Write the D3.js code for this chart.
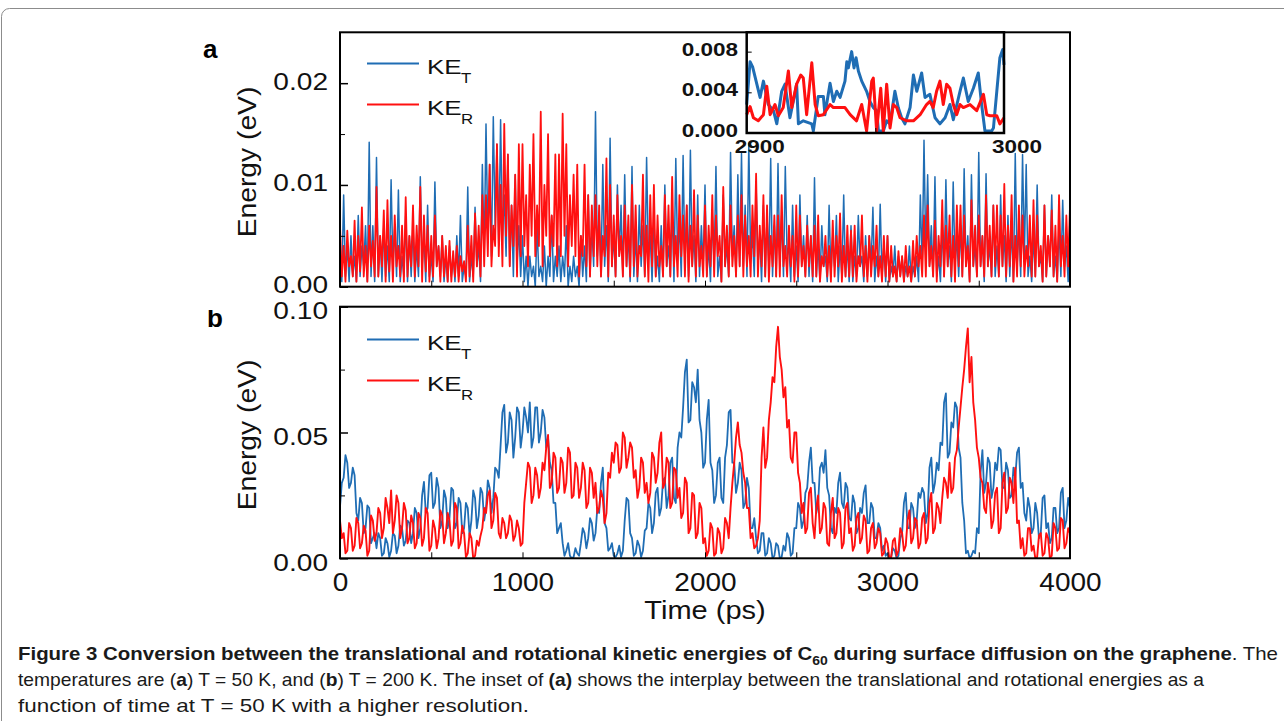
<!DOCTYPE html>
<html>
<head>
<meta charset="utf-8">
<script src="https://cdn.jsdelivr.net/npm/d3@7"></script>
<style>
  body { margin: 0; background: #fff; }
  svg { display: block; font-family: Arial, "Liberation Sans", sans-serif; }
</style>
</head>
<body>
<script>
// spacing of the main traces, ps
const stepPs = 10;

// (a) T = 50 K, energies in meV, one value every stepPs (20 per line = 200 ps)
const keT_a = [
  3, 0.5, 9, 1, 4, 0.5, 5, 1, 3, 0.5, 7, 1, 4, 2, 6, 0.5, 14.2, 1, 6, 0.5,
  12.7, 1, 5, 0.5, 6, 1, 4, 0.5, 10.5, 2, 6, 1, 9.5, 0.5, 3, 1, 7, 0.5, 5, 1,
  6, 0.5, 4, 1, 10.8, 2, 5, 0.5, 8, 1, 3, 0.5, 10.3, 2, 4, 1, 5, 0.5, 3, 0.5,
  4, 1, 3, 0.5, 5, 1, 7, 0.5, 2, 1, 9.8, 0.5, 3, 1, 7.8, 2, 4, 0.5, 12, 3,
  16, 5, 12, 3, 16.7, 6, 14, 4, 16.4, 5, 9, 3, 13, 2, 8, 1, 11, 2, 6, 1,
  5, 0.5, 3, 0, 3, 1, 2, 0, 6, 1, 2, 0.5, 4, 0, 3, 1, 7, 0.5, 3, 1,
  4, 0.5, 3, 1, 6, 0, 2, 0.5, 3, 1, 2, 0, 5, 1, 4, 0.5, 9, 1, 6, 2,
  17.2, 3, 7, 1, 12, 2, 6, 0.5, 14.6, 2, 5, 1, 10, 3, 8, 1, 11, 2, 5, 0.5,
  11.8, 1, 5, 0.5, 8, 2, 6, 1, 12.7, 3, 5, 0.5, 7, 1, 3, 0.5, 6, 1, 10, 2,
  4, 1, 8, 0.5, 12.6, 3, 6, 1, 12.9, 2, 8, 1, 13.4, 2, 5, 0.5, 9, 1, 6, 2,
  10, 1, 4, 0.5, 7, 2, 11.8, 1, 3, 0.5, 9, 2, 4, 1, 13.2, 3, 6, 1, 11, 2,
  13.1, 2, 8, 1, 14.1, 3, 5, 1, 10, 2, 5, 0.5, 8, 1, 7, 2, 12.6, 1, 6, 1,
  12.1, 2, 7, 1, 11.8, 3, 4, 0.5, 8, 1, 4, 0.5, 9, 2, 5, 1, 7, 1, 5, 0.5,
  10.7, 1, 4, 0.5, 6, 2, 3, 0.5, 8, 1, 5, 2, 7, 0.5, 4, 1, 9, 1, 4, 0.5,
  6, 0.5, 3, 1, 7, 2, 3, 0.5, 5, 1, 5, 2, 7.8, 0.5, 3, 1, 8.1, 1, 4, 0.5,
  5, 0.5, 2, 1, 4, 0.5, 3, 1, 3, 0.5, 2, 1, 4, 0.5, 2, 1, 3, 0.5, 9, 2,
  14.4, 3, 11, 2, 6, 1, 10.8, 1, 3, 0.5, 6, 1, 10.5, 2, 4, 0.5, 10.3, 2, 5, 1,
  6, 1, 11.6, 2, 5, 0.5, 11, 2, 4, 1, 13.2, 2, 5, 0.5, 11.1, 2, 4, 1, 8, 1,
  4, 1, 9, 2, 5, 0.5, 7, 1, 6, 0.5, 13.1, 2, 6, 1, 13, 3, 12, 1, 3, 0.5,
  5, 1, 10, 2, 3, 0.5, 8, 1, 5, 2, 9, 1, 3, 0.5, 6, 1, 8.5, 2, 4, 0.5,
  7
];
const keR_a = [
  6, 1, 4, 0.5, 5.5, 2, 3, 1, 6.5, 0.5, 5, 1.5, 7.8, 1, 4, 0.5, 6, 2, 4.5, 1,
  9.8, 1, 5, 2, 7.5, 0.5, 8.5, 1.5, 5, 0.5, 7, 2, 4, 1, 6, 0.5, 8.8, 1, 5, 2,
  8, 1, 6, 2, 9.8, 0.5, 7, 1.5, 6, 0.5, 5, 1, 7, 2, 4, 0.5, 5, 1, 4, 0.5,
  4.5, 0.5, 3.5, 1, 4, 0.5, 3, 1.5, 2.5, 0.5, 6, 1, 5, 0.5, 7.2, 2, 6, 1, 9, 2,
  9, 3, 12, 2, 6, 4, 14, 3, 10, 2, 16, 5, 13, 2, 8, 4, 11, 1, 14, 3,
  14, 4, 9, 2, 12, 5, 15, 3, 8, 4, 17.2, 2, 10, 5, 15, 3, 7, 4, 13, 2,
  13, 3, 17, 5, 14, 2, 9, 4, 11, 3, 12, 1, 5, 3, 12, 2, 9, 1, 8, 3,
  9, 2, 8, 1, 5, 3, 12.6, 1, 10, 2, 7, 1, 9, 3, 5, 1, 8, 2, 7, 1,
  10, 2, 8, 1, 4, 3, 11, 1, 6, 0.5, 9, 2, 10, 1, 7, 2, 4, 1, 9, 2,
  8, 1, 10.8, 2, 5, 1, 9, 3, 7, 1, 8, 0.5, 6, 2, 9.5, 1, 7, 2, 4, 1,
  8, 1, 6, 2, 9, 1, 7, 3, 5, 0.5, 9.8, 2, 6, 1, 8, 2, 5, 1, 7, 2,
  9, 1, 7, 2, 5, 1, 8, 3, 11.1, 1, 6, 2, 9, 1, 8, 0.5, 5, 2, 7, 1,
  7, 1, 9, 2, 4, 1, 6, 2, 5, 0.5, 8, 1, 7, 2, 4, 1, 6, 2, 5, 1,
  6, 1, 7, 0.5, 3, 2, 5, 1, 4, 0.5, 6.5, 1, 5, 2, 7.2, 0.5, 4, 1, 6, 1,
  5.5, 1, 6, 0.5, 3, 2, 7, 1, 4, 0.5, 5, 1, 4, 2, 6, 1, 3, 0.5, 5, 1,
  5, 0.5, 4, 1, 2, 0.5, 3.5, 1, 3, 0.5, 4, 1, 2, 0.5, 4.5, 1, 5, 2, 4, 1,
  7, 1, 8, 2, 4, 1, 6.5, 0.5, 5, 2, 8.5, 1, 6, 2, 7, 1, 5, 0.5, 8, 2,
  8, 1, 7, 2, 4, 0.5, 8.5, 2, 6, 1, 7, 2, 5, 1, 9, 2, 6, 1, 8, 2,
  8, 1, 7, 2, 10.1, 1, 6, 2, 9, 0.5, 5, 1, 8, 2, 7, 1, 4, 2, 7, 1,
  8.5, 1, 7, 2, 4, 0.5, 8, 1, 5, 2, 7.5, 1, 6, 0.5, 9, 2, 5, 1, 7, 2,
  8
];

// inset of (a): [time ps, energy meV]
const insetT = [
  [2900, 2.8], [2901.3, 7.0], [2902.3, 6.5], [2905.2, 3.5], [2906.5, 5.1], [2908.4, 2.8],
  [2910.4, 2.2], [2911.7, 0.9], [2913.6, 4.1], [2914.9, 4.8], [2916.8, 1.5], [2918.1, 3.1],
  [2919.4, 4.8], [2920.1, 0.9], [2922, 1.2], [2925.3, 0.9], [2925.9, 0.2], [2927.8, 3.6],
  [2929.8, 3.6], [2930.4, 1.8], [2932.4, 4.9], [2933.7, 3.1], [2935, 4.1], [2936.3, 3.5],
  [2938.2, 5.1], [2938.9, 7.0], [2939.5, 6.4], [2940.8, 8.0], [2941.7, 6.4], [2942.5, 7.4],
  [2943.4, 6.1], [2944.7, 5.1], [2946.6, 4.1], [2947.9, 3.1], [2949.2, 2.5], [2950.5, 2.2],
  [2951.2, 0.2], [2953.1, 0.2], [2954.4, 1.2], [2955.7, 0.9], [2957.6, 4.1], [2958.9, 2.5],
  [2960.2, 1.5], [2961.5, 0.9], [2963.5, 2.5], [2964.8, 5.7], [2966.1, 4.1], [2968, 5.9],
  [2969.3, 3.5], [2971.2, 3.8], [2973.2, 1.5], [2975.1, 0.9], [2977.1, 1.5], [2979, 2.8],
  [2980.3, 1.3], [2982.9, 4.1], [2984.2, 5.4], [2986.1, 3.1], [2988.1, 4.4], [2990, 5.9],
  [2991.3, 2.8], [2992.6, 0.2], [2995.2, 0.2], [2995.9, 0.5], [2997.2, 4.1], [2998.4, 7.4],
  [2999.5, 8.2], [3000, 6.7]
];
const insetR = [
  [2900, 1.8], [2901.3, 2.6], [2902.6, 1.5], [2904.5, 1.2], [2906.5, 1.8], [2907.8, 4.6],
  [2909.1, 1.8], [2911, 2.8], [2912.3, 1.7], [2914.2, 2.5], [2916.2, 6.1], [2917.5, 2.5],
  [2919.4, 4.8], [2921, 5.7], [2922, 5.4], [2923.3, 1.8], [2925.3, 6.9], [2926.6, 2.8],
  [2927.8, 1.7], [2929.8, 1.8], [2932.4, 2.8], [2933.7, 2.5], [2936.3, 2.5], [2938.2, 2.5],
  [2940.2, 1.8], [2942.7, 1.2], [2944.7, 2.8], [2946.6, 0.2], [2948.6, 5.1], [2949.2, 5.4],
  [2950.5, 0.2], [2952.1, 4.4], [2953.1, 0.2], [2954.4, 4.8], [2955.7, 0.5], [2957, 2.8],
  [2958.3, 2.5], [2959.6, 1.5], [2962.2, 1.2], [2964.8, 1.2], [2967.4, 1.8], [2969.9, 2.8],
  [2971.2, 3.1], [2972.5, 2.5], [2973.8, 4.1], [2975.1, 5.1], [2976.4, 2.8], [2977.7, 4.8],
  [2979, 4.4], [2980.3, 2.8], [2981.6, 1.8], [2982.9, 2.8], [2984.2, 2.5], [2986.8, 2.8],
  [2989.4, 2.2], [2992, 3.8], [2993.3, 1.8], [2994.6, 1.7], [2997.2, 1.7], [2998.4, 0.9],
  [3000, 1.5]
];

// (b) T = 200 K, energies in meV, one value every stepPs (20 per line = 200 ps)
const keT_b = [
  20.5, 30, 32, 41, 38, 28, 30, 36, 33, 18, 15, 24, 22, 10, 12, 21, 20, 6, 8, 10,
  4, 10, 8, 1, 2, 8, 6, 0.5, 3, 10, 9, 2, 5, 13, 12, 5, 7, 15, 14, 6,
  10, 20, 18, 8, 12, 25, 30.4, 18, 20, 33, 34, 20, 22, 32, 28, 12, 15, 27, 24, 12,
  16, 28, 27, 12, 14, 24, 22, 10, 12, 22, 20, 9, 15, 27, 24, 12, 17, 28, 26, 15,
  20, 31, 28, 18, 24, 36, 35, 32, 45, 58, 61, 42, 46, 58, 55, 40, 48, 60, 58, 44,
  50, 60, 56, 50, 62, 44, 48, 60, 60, 46, 50, 59, 56, 44, 48, 38, 35, 22, 22, 10,
  12, 14, 6, 1, 3, 6, 1, 0, 0.5, 4, 2, 1, 6, 12, 10, 4, 8, 16, 14, 7,
  10, 20, 18, 30, 36, 14, 12, 3, 4, 6, 1, 0.5, 2, 5, 0.5, 3, 15, 24, 23, 10,
  8, 1, 2, 7, 5, 0.5, 3, 11, 12, 22, 20, 10, 14, 26, 28, 17, 20, 31, 32, 20,
  25, 38, 40, 24, 22, 44, 50, 48, 60, 74, 79, 54, 55, 70, 68, 62, 75, 55, 50, 36,
  38, 55, 63, 38, 35, 22, 25, 38, 40, 24, 22, 40, 45, 58, 59, 38, 38, 26, 30, 38,
  35, 20, 22, 32, 28, 12, 12, 16, 8, 2, 3, 10, 10, 1, 2, 8, 6, 0, 1, 6,
  5, 0, 0.5, 5, 3, 10, 8, 1, 2, 12, 12, 22, 20, 12, 15, 26, 28, 38, 44, 30,
  30, 18, 22, 36, 38, 34, 43, 28, 25, 12, 10, 20, 18, 30, 34, 22, 20, 30, 28, 16,
  15, 25, 22, 10, 12, 20, 18, 26, 29, 14, 14, 22, 20, 8, 8, 14, 12, 3, 5, 1,
  2, 0, 0.5, 4, 3, 0, 1, 8, 10, 22, 26, 12, 12, 22, 20, 12, 15, 26, 24, 28,
  26, 14, 18, 36, 40, 26, 30, 38, 35, 46, 45, 62, 65.5, 40, 42, 54, 52, 62, 60, 44,
  40, 22, 15, 2, 3, 0, 1, 3, 2, 12, 10, 34, 43, 26, 30, 40, 38, 24, 28, 38,
  35, 44, 43, 28, 28, 38, 35, 24, 25, 36, 32, 42, 44, 28, 30, 18, 15, 24, 20, 10,
  12, 22, 18, 8, 10, 24, 25, 12, 14, 6, 8, 20, 20, 10, 12, 26, 28, 12, 15, 24,
  20
];
const keR_b = [
  15, 8, 10, 2, 3, 14, 12, 3, 5, 16, 14, 4, 6, 13, 11, 1, 3, 17, 15, 7,
  10, 20, 18, 8, 12, 24, 20, 14, 27, 10, 15, 25, 22, 8, 12, 22, 19, 6, 8, 17,
  14, 4, 6, 18, 16, 5, 8, 20, 18, 3, 5, 15, 12, 4, 8, 19, 17, 6, 10, 18,
  15, 5, 7, 22, 20, 4, 6, 13, 10, 0.5, 2, 10, 8, 0, 1, 7, 5, 9, 12, 20,
  18, 25, 27, 12, 15, 26, 24, 10, 8, 16, 14, 8, 10, 17, 15, 7, 9, 15, 12, 5,
  6, 22, 30, 38, 36, 22, 25, 36, 33, 24, 28, 38, 35, 44, 49, 28, 30, 42, 40, 26,
  28, 40, 38, 26, 30, 44, 42, 24, 25, 38, 36, 24, 28, 38, 35, 20, 22, 36, 34, 24,
  30, 18, 20, 27, 24, 14, 18, 34, 32, 42, 38, 46, 45, 34, 36, 50, 48, 36, 40, 46,
  44, 32, 35, 24, 28, 40, 38, 26, 30, 22, 26, 42, 40, 30, 34, 46, 50, 28, 30, 40,
  38, 20, 22, 36, 35, 24, 28, 16, 18, 32, 30, 10, 12, 26, 25, 8, 10, 22, 20, 6,
  8, 1, 3, 14, 12, 1, 2, 12, 10, 2, 4, 16, 14, 8, 20, 30, 38, 48, 54, 45,
  42, 34, 30, 20, 20, 8, 10, 4, 5, 8, 15, 40, 52, 36, 40, 55, 62, 72, 70, 84,
  92, 80, 75, 64, 68, 52, 55, 40, 38, 50, 50, 34, 30, 18, 22, 10, 12, 26, 28, 14,
  8, 20, 25, 10, 12, 22, 20, 6, 5, 18, 24, 8, 10, 20, 18, 4, 6, 20, 22, 10,
  12, 3, 5, 16, 18, 6, 8, 17, 15, 2, 3, 12, 14, 4, 6, 12, 10, 1, 2, 8,
  6, 0, 0.5, 7, 8, 1, 3, 12, 10, 3, 5, 15, 19, 6, 8, 16, 15, 4, 6, 16,
  18, 6, 8, 22, 26, 10, 12, 22, 20, 14, 24, 32, 30, 24, 38, 26, 28, 40, 43, 52,
  60, 68, 75, 84, 91.4, 70, 80, 62, 55, 44, 40, 32, 30, 20, 18, 30, 25, 12, 15, 26,
  28, 10, 12, 30, 34, 18, 20, 32, 30, 22, 36, 14, 15, 4, 8, 1, 2, 12, 12, 3,
  5, 0, 0.5, 9, 10, 1, 2, 10, 8, 0, 1, 14, 12, 3, 4, 16, 15, 4, 6, 12,
  10
];

// ticks
const timeTicks = [0, 1000, 2000, 3000, 4000];
const timeMinor = [500, 1000, 1500, 2000, 2500, 3000, 3500];
const yTicksA = [0, 0.01, 0.02], yMinorA = [0.005, 0.015];
const yTicksB = [0, 0.05, 0.1], yMinorB = [0.025, 0.075];
const insetYTicks = [0, 0.004, 0.008], insetXTicks = [2900, 3000];

const blue = '#1f6db4', red = '#ff1010';
const W = 1284, H = 721;
const L = 340, R = 1070;

const svg = d3.select('body').append('svg')
    .attr('width', W)
    .attr('height', H);

// stretch text horizontally, the figure uses a wide sans
const widen = (sel, k) => sel.each(function () {
    const w = this.getComputedTextLength();
    d3.select(this).attr('textLength', w * k).attr('lengthAdjust', 'spacingAndGlyphs');
});

// figure border
svg.append('rect')
    .attr('x', 1.5).attr('y', 8.5)
    .attr('width', 1320).attr('height', 800)
    .attr('rx', 8)
    .attr('fill', 'none')
    .attr('stroke', '#8c8c8c');

const x = d3.scaleLinear().domain([0, 4000]).range([L, R]);
const yA = d3.scaleLinear().domain([0, 0.025]).range([286.7, 32.3]);
const yB = d3.scaleLinear().domain([0, 0.1]).range([558.3, 306.7]);

const defs = svg.append('defs');
const clip = (id, x0, y0, w, h) => defs.append('clipPath').attr('id', id)
    .append('rect').attr('x', x0).attr('y', y0).attr('width', w).attr('height', h);
clip('clipA', L, 32.3, R - L, 254.4);
clip('clipB', L, 306.7, R - L, 251.6);
clip('clipLetterB', 190, 310, 60, 30);

const line = (y) => d3.line()
    .x((d, i) => x(i * stepPs))
    .y(d => y(d / 1000));

const trace = (vals, y, color, clipId, sw) => svg.append('path')
    .datum(vals)
    .attr('clip-path', `url(#${clipId})`)
    .attr('fill', 'none')
    .attr('stroke', color)
    .attr('stroke-width', sw)
    .attr('stroke-linejoin', 'round')
    .attr('d', line(y));

trace(keT_a, yA, blue, 'clipA', 1.5);
trace(keR_a, yA, red, 'clipA', 1.8);
trace(keT_b, yB, blue, 'clipB', 1.8);
trace(keR_b, yB, red, 'clipB', 1.9);

// axes, ticks pointing inward
const leftAxis = (y, major, minor) => {
    svg.append('g')
        .attr('transform', `translate(${L},0)`)
        .call(d3.axisLeft(y).tickValues(minor).tickSizeInner(-5).tickSizeOuter(0).tickFormat(''))
        .call(g => g.select('.domain').remove());
    const g = svg.append('g')
        .attr('transform', `translate(${L},0)`)
        .call(d3.axisLeft(y).tickValues(major).tickSizeInner(-8).tickSizeOuter(0)
            .tickPadding(12).tickFormat(d3.format('.2f')));
    g.select('.domain').remove();
    g.selectAll('line').attr('stroke-width', 1.5);
    g.selectAll('text')
        .attr('font-size', 24)
        .attr('font-family', 'Arial, "Liberation Sans", sans-serif')
        .attr('fill', '#111')
        .call(widen, 1.17);
    return g;
};
leftAxis(yA, yTicksA, yMinorA).selectAll('text').attr('dy', '0.25em');
leftAxis(yB, yTicksB, yMinorB).selectAll('text').attr('dy', '0.5em');

[yA, yB].forEach(y => {
    svg.append('g')
        .attr('transform', `translate(0,${y(0)})`)
        .call(d3.axisBottom(x).tickValues(timeMinor).tickSizeInner(-6).tickSizeOuter(0).tickFormat(''))
        .call(g => g.select('.domain').remove());
});

const xb = svg.append('g')
    .attr('transform', `translate(0,${yB(0)})`)
    .call(d3.axisBottom(x).tickValues(timeTicks).tickSize(0).tickPadding(15).tickFormat(d3.format('d')));
xb.select('.domain').remove();
xb.selectAll('text')
    .attr('font-size', 25)
    .attr('fill', '#111')
    .call(widen, 1.12);

// frames
[yA, yB].forEach(y => {
    svg.append('rect')
        .attr('x', L).attr('y', y.range()[1])
        .attr('width', R - L).attr('height', y.range()[0] - y.range()[1])
        .attr('fill', 'none')
        .attr('stroke', '#000')
        .attr('stroke-width', 2);
});

// inset
const xi = d3.scaleLinear().domain([2900, 3000]).range([746.7, 1004]);
const yi = d3.scaleLinear().domain([0, 0.0099]).range([133, 32.3]);

svg.append('rect')
    .attr('x', 746.7).attr('y', 32.3)
    .attr('width', 1004 - 746.7).attr('height', 133 - 32.3)
    .attr('fill', '#fff');

const insetLine = d3.line().x(d => xi(d[0])).y(d => yi(d[1] / 1000));
[[insetT, blue], [insetR, red]].forEach(([d, c]) => {
    svg.append('path')
        .datum(d)
        .attr('fill', 'none')
        .attr('stroke', c)
        .attr('stroke-width', 3)
        .attr('stroke-linejoin', 'round')
        .attr('d', insetLine);
});

svg.append('g')
    .attr('transform', 'translate(746.7,0)')
    .call(d3.axisLeft(yi).tickValues(insetYTicks.slice(1)).tickSizeInner(-5).tickSizeOuter(0).tickFormat(''))
    .call(g => g.select('.domain').remove());
svg.append('g')
    .attr('transform', 'translate(0,133)')
    .call(d3.axisBottom(xi).tickValues([2950]).tickSizeInner(-5).tickSizeOuter(0).tickFormat(''))
    .call(g => g.select('.domain').remove());

svg.append('rect')
    .attr('x', 746.7).attr('y', 32.3)
    .attr('width', 1004 - 746.7).attr('height', 133 - 32.3)
    .attr('fill', 'none')
    .attr('stroke', '#000')
    .attr('stroke-width', 2.5);

svg.selectAll('.inset-y')
    .data(insetYTicks)
    .join('text')
    .attr('class', 'inset-y')
    .attr('x', 738)
    .attr('y', d => yi(d) + 4)
    .attr('text-anchor', 'end')
    .attr('font-size', 18)
    .attr('font-weight', 'bold')
    .attr('fill', '#111')
    .text(d3.format('.3f'))
    .call(widen, 1.25);

svg.selectAll('.inset-x')
    .data(insetXTicks)
    .join('text')
    .attr('class', 'inset-x')
    .attr('x', d => xi(d) + 13)
    .attr('y', 153)
    .attr('text-anchor', 'middle')
    .attr('font-size', 18)
    .attr('font-weight', 'bold')
    .attr('fill', '#111')
    .text(d => d)
    .call(widen, 1.25);

// legends
const legend = (y0, items) => items.forEach(([color, sub], k) => {
    const y = y0 + k * 41;
    svg.append('line')
        .attr('x1', 367).attr('x2', 419)
        .attr('y1', y).attr('y2', y)
        .attr('stroke', color)
        .attr('stroke-width', 2);
    svg.append('text')
        .attr('x', 427).attr('y', y + 10)
        .attr('font-size', 20)
        .attr('fill', '#111')
        .text('KE')
        .call(widen, 1.3);
    svg.append('text')
        .attr('x', 461).attr('y', y + 19.5)
        .attr('font-size', 14)
        .attr('fill', '#111')
        .text(sub)
        .call(widen, 1.2);
});
legend(63.5, [[blue, 'T'], [red, 'R']]);
legend(339.5, [[blue, 'T'], [red, 'R']]);

// axis titles
[162, 435].forEach(cy => {
    svg.append('text')
        .attr('transform', `translate(256,${cy}) rotate(-90)`)
        .attr('text-anchor', 'middle')
        .attr('font-size', 25)
        .attr('fill', '#111')
        .text('Energy (eV)')
        .call(widen, 1.13);
});
svg.append('text')
    .attr('x', 705).attr('y', 619)
    .attr('text-anchor', 'middle')
    .attr('font-size', 25)
    .attr('fill', '#111')
    .text('Time (ps)')
    .call(widen, 1.16);

// panel letters
svg.append('text')
    .attr('x', 203).attr('y', 58)
    .attr('font-size', 26).attr('font-weight', 'bold')
    .text('a');
svg.append('text')
    .attr('x', 207).attr('y', 327)
    .attr('font-size', 26).attr('font-weight', 'bold')
    .attr('clip-path', 'url(#clipLetterB)')
    .text('b');

// caption
const capFont = '"Liberation Sans Narrow", "Liberation Sans", sans-serif';
const caption = [
    {y: 660, len: 1260, parts: [
        ['Figure 3 Conversion between the translational and rotational kinetic energies of C', 'bold'],
        ['60', 'sub'],
        [' during surface diffusion on the graphene', 'bold'],
        ['. The', 'normal']]},
    {y: 686, len: 1186, parts: [
        ['temperatures are (', 'normal'], ['a', 'bold'], [') T = 50 K, and (', 'normal'], ['b', 'bold'],
        [') T = 200 K. The inset of ', 'normal'], ['(a)', 'bold'],
        [' shows the interplay between the translational and rotational energies as a', 'normal']]},
    {y: 712, len: 511, parts: [
        ['function of time at T = 50 K with a higher resolution.', 'normal']]}
];
caption.forEach(row => {
    const t = svg.append('text')
        .attr('x', 18).attr('y', row.y)
        .attr('font-family', capFont)
        .attr('font-size', 19)
        .attr('fill', '#1a1a1a')
        .attr('textLength', row.len)
        .attr('lengthAdjust', 'spacingAndGlyphs');
    let shifted = false;
    row.parts.forEach(([s, kind]) => {
        const ts = t.append('tspan').text(s);
        if (kind === 'sub') {
            ts.attr('font-weight', 'bold').attr('font-size', 13).attr('dy', 5);
            shifted = true;
        } else {
            ts.attr('font-weight', kind === 'bold' ? 'bold' : 'normal');
            if (shifted) { ts.attr('dy', -5); shifted = false; }
        }
    });
});
</script>
</body>
</html>
